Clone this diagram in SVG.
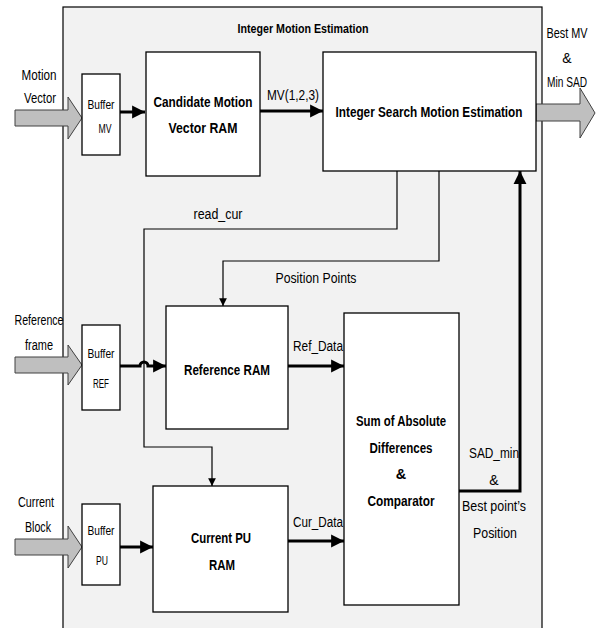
<svg xmlns="http://www.w3.org/2000/svg" width="603" height="628" viewBox="0 0 603 628">
<style>
text{font-family:"Liberation Sans",Arial,sans-serif;fill:#000;text-anchor:middle;dominant-baseline:central}
.b{font-weight:bold;font-size:14.5px}
.n{font-size:14px}
.s{font-size:12px}
.box{fill:#fff;stroke:#000;stroke-width:1.3}
.grey{fill:#bfbfbf;stroke:#404040;stroke-width:1}
.thick{fill:none;stroke:#000;stroke-width:3}
.thin{fill:none;stroke:#000;stroke-width:1.2}
</style>
<defs>
<marker id="ah" viewBox="0 0 10 10" refX="10" refY="5" markerWidth="4.3" markerHeight="4.6" markerUnits="strokeWidth" orient="auto"><path d="M0,0L10,5L0,10z" fill="#000"/></marker>
<marker id="as" viewBox="0 0 10 10" refX="10" refY="5" markerWidth="6.5" markerHeight="8" markerUnits="strokeWidth" orient="auto"><path d="M0,0L10,5L0,10z" fill="#000"/></marker>
</defs>
<g id="container">
<rect x="63" y="7" width="479" height="630" fill="#f2f2f2" stroke="#000" stroke-width="1.2"/>
<text x="303" y="28" class="b" style="font-size:13px" textLength="131" lengthAdjust="spacingAndGlyphs">Integer Motion Estimation</text>
</g>
<g id="connectors">
<polygon class="grey" points="15,110 68,110 68,97 82,118 68,139 68,126 15,126"/>
<polygon class="grey" points="15,357 68,357 68,345 82,365 68,385 68,373 15,373"/>
<polygon class="grey" points="15,539 68,539 68,526 82,547 68,568 68,555 15,555"/>
<polygon class="grey" points="536,104 580,104 580,88 595,113 580,138 580,121 536,121"/>
<line class="thick" x1="120" y1="112" x2="145" y2="112" marker-end="url(#ah)"/>
<line class="thick" x1="260" y1="111" x2="323" y2="111" marker-end="url(#ah)"/>
<path class="thick" d="M120,366 H140 A4,4 0 0 1 148,366 H166" marker-end="url(#ah)"/>
<line class="thick" x1="120" y1="547" x2="153" y2="547" marker-end="url(#ah)"/>
<line class="thick" x1="288" y1="366" x2="344" y2="366" marker-end="url(#ah)"/>
<line class="thick" x1="288" y1="541" x2="344" y2="541" marker-end="url(#ah)"/>
<path class="thick" d="M459,491 H520 V171" marker-end="url(#ah)"/>
<path class="thin" d="M397,171 V229 H144 V447 H212 V486" marker-end="url(#as)"/>
<path class="thin" d="M439,171 V261 H223 V306" marker-end="url(#as)"/>
<text x="39" y="75" class="n" textLength="35" lengthAdjust="spacingAndGlyphs">Motion</text>
<text x="40" y="98" class="n" textLength="32" lengthAdjust="spacingAndGlyphs">Vector</text>
<text x="39" y="320" class="n" textLength="49" lengthAdjust="spacingAndGlyphs">Reference</text>
<text x="39" y="345" class="n" textLength="28" lengthAdjust="spacingAndGlyphs">frame</text>
<text x="36" y="502" class="n" textLength="36" lengthAdjust="spacingAndGlyphs">Current</text>
<text x="38" y="527" class="n" textLength="26" lengthAdjust="spacingAndGlyphs">Block</text>
<text x="293" y="95" class="n" textLength="52" lengthAdjust="spacingAndGlyphs">MV(1,2,3)</text>
<text x="567" y="33" class="n" textLength="41" lengthAdjust="spacingAndGlyphs">Best MV</text>
<text x="567" y="58" class="n">&amp;</text>
<text x="567" y="82" class="n" textLength="40" lengthAdjust="spacingAndGlyphs">Min SAD</text>
<text x="218" y="214" class="n" textLength="49" lengthAdjust="spacingAndGlyphs">read_cur</text>
<text x="316" y="278" class="n" textLength="81" lengthAdjust="spacingAndGlyphs">Position Points</text>
<text x="318" y="346" class="n" textLength="50" lengthAdjust="spacingAndGlyphs">Ref_Data</text>
<text x="318" y="522" class="n" textLength="50" lengthAdjust="spacingAndGlyphs">Cur_Data</text>
<text x="494" y="453" class="n" textLength="50" lengthAdjust="spacingAndGlyphs">SAD_min</text>
<text x="494" y="480" class="n">&amp;</text>
<text x="494" y="506" class="n" textLength="64" lengthAdjust="spacingAndGlyphs">Best point’s</text>
<text x="495" y="533" class="n" textLength="44" lengthAdjust="spacingAndGlyphs">Position</text>
</g>
<g id="buffer-mv">
<rect class="box" x="82" y="74" width="38" height="81"/>
<text x="101" y="105" class="s" textLength="27" lengthAdjust="spacingAndGlyphs">Buffer</text>
<text x="105" y="129" class="s" textLength="13" lengthAdjust="spacingAndGlyphs">MV</text>
</g>
<g id="candidate-ram">
<rect class="box" x="146" y="52" width="114" height="124"/>
<text x="203" y="102" class="b" textLength="99" lengthAdjust="spacingAndGlyphs">Candidate Motion</text>
<text x="203" y="128" class="b" textLength="69" lengthAdjust="spacingAndGlyphs">Vector RAM</text>
</g>
<g id="integer-search">
<rect class="box" x="323" y="52" width="213" height="119"/>
<text x="429" y="112" class="b" textLength="187" lengthAdjust="spacingAndGlyphs">Integer Search Motion Estimation</text>
</g>
<g id="buffer-ref">
<rect class="box" x="82" y="325" width="38" height="85"/>
<text x="101" y="354" class="s" textLength="27" lengthAdjust="spacingAndGlyphs">Buffer</text>
<text x="101" y="384" class="s" textLength="16" lengthAdjust="spacingAndGlyphs">REF</text>
</g>
<g id="reference-ram">
<rect class="box" x="166" y="306" width="122" height="123"/>
<text x="227" y="370" class="b" textLength="86" lengthAdjust="spacingAndGlyphs">Reference RAM</text>
</g>
<g id="sad">
<rect class="box" x="344" y="313" width="115" height="292"/>
<text x="401" y="421" class="b" textLength="90" lengthAdjust="spacingAndGlyphs">Sum of Absolute</text>
<text x="401" y="448" class="b" textLength="63" lengthAdjust="spacingAndGlyphs">Differences</text>
<text x="401" y="474" class="b">&amp;</text>
<text x="401" y="501" class="b" textLength="67" lengthAdjust="spacingAndGlyphs">Comparator</text>
</g>
<g id="buffer-pu">
<rect class="box" x="82" y="504" width="38" height="81"/>
<text x="101" y="531" class="s" textLength="27" lengthAdjust="spacingAndGlyphs">Buffer</text>
<text x="102" y="561" class="s" textLength="12" lengthAdjust="spacingAndGlyphs">PU</text>
</g>
<g id="current-pu-ram">
<rect class="box" x="153" y="486" width="135" height="126"/>
<text x="221" y="538" class="b" textLength="60" lengthAdjust="spacingAndGlyphs">Current PU</text>
<text x="222" y="565" class="b" textLength="26" lengthAdjust="spacingAndGlyphs">RAM</text>
</g>
</svg>
